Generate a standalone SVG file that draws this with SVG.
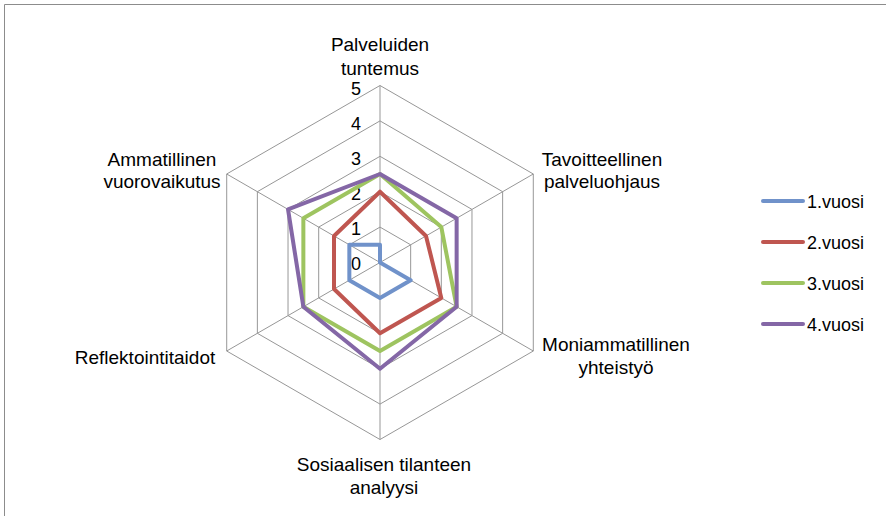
<svg xmlns="http://www.w3.org/2000/svg" width="886" height="516" viewBox="0 0 886 516">
<style>
text{font-family:"Liberation Sans",Arial,sans-serif;fill:#000}
.lbl{font-size:19px;text-anchor:middle}
.tick{font-size:18px;text-anchor:end}
.leg{font-size:18px}
.grid{fill:none;stroke:#979797;stroke-width:1}
.ser{fill:none;stroke-width:4;stroke-linejoin:round}
.s1{stroke:#7092CA}
.s2{stroke:#BF5650}
.s3{stroke:#9EC460}
.s4{stroke:#8467A6}
.legl{stroke-width:4;stroke-linecap:round}
</style>
<rect x="0" y="0" width="886" height="516" fill="#fff"/>
<path d="M4.5 516 V4.5 H886" fill="none" stroke="#8c8c8c" stroke-width="1"/>
<g id="grid">
<polygon class="grid" points="380,227.1 410.66,244.8 410.66,280.2 380,297.9 349.34,280.2 349.34,244.8"/>
<polygon class="grid" points="380,191.7 441.31,227.1 441.31,297.9 380,333.3 318.69,297.9 318.69,227.1"/>
<polygon class="grid" points="380,156.3 471.97,209.4 471.97,315.6 380,368.7 288.03,315.6 288.03,209.4"/>
<polygon class="grid" points="380,120.9 502.63,191.7 502.63,333.3 380,404.1 257.37,333.3 257.37,191.7"/>
<polygon class="grid" points="380,85.5 533.29,174 533.29,351 380,439.5 226.71,351 226.71,174"/>
<path class="grid" d="M380 262.5 V85.5 M380 262.5 L533.29 174 M380 262.5 L533.29 351 M380 262.5 V439.5 M380 262.5 L226.71 351 M380 262.5 L226.71 174"/>
</g>
<g id="ticks">
<text class="tick" x="361" y="95">5</text>
<text class="tick" x="361" y="130">4</text>
<text class="tick" x="361" y="165">3</text>
<text class="tick" x="361" y="200">2</text>
<text class="tick" x="361" y="235">1</text>
<text class="tick" x="361" y="270">0</text>
</g>
<g id="series">
<polygon class="ser s1" points="380,244.8 380,262.5 410.66,280.2 380,297.9 349.34,280.2 349.34,244.8"/>
<polygon class="ser s2" points="380,191.7 425.99,235.95 441.31,297.9 380,333.3 334.01,289.05 334.01,235.95"/>
<polygon class="ser s3" points="380,174 441.31,227.1 456.64,306.75 380,351 303.36,306.75 303.36,218.25"/>
<polygon class="ser s4" points="380,174 456.64,218.25 456.64,306.75 380,368.7 303.36,306.75 288.03,209.4"/>
</g>
<g id="axis-top"><text class="lbl" x="380" y="51">Palveluiden</text><text class="lbl" x="380" y="75">tuntemus</text></g>
<g id="axis-ur"><text class="lbl" x="602" y="166">Tavoitteellinen</text><text class="lbl" x="602" y="188">palveluohjaus</text></g>
<g id="axis-lr"><text class="lbl" x="616" y="351">Moniammatillinen</text><text class="lbl" x="616" y="373.5">yhteistyö</text></g>
<g id="axis-b"><text class="lbl" x="384" y="471">Sosiaalisen tilanteen</text><text class="lbl" x="384" y="494">analyysi</text></g>
<g id="axis-ll"><text class="lbl" x="145" y="364">Reflektointitaidot</text></g>
<g id="axis-ul"><text class="lbl" x="162" y="166">Ammatillinen</text><text class="lbl" x="162" y="188">vuorovaikutus</text></g>
<g id="legend">
<line class="legl s1" x1="763" y1="201" x2="803" y2="201"/><text class="leg" x="807" y="208">1.vuosi</text>
<line class="legl s2" x1="763" y1="242" x2="803" y2="242"/><text class="leg" x="807" y="249">2.vuosi</text>
<line class="legl s3" x1="763" y1="283" x2="803" y2="283"/><text class="leg" x="807" y="290">3.vuosi</text>
<line class="legl s4" x1="763" y1="324" x2="803" y2="324"/><text class="leg" x="807" y="331">4.vuosi</text>
</g>
</svg>
